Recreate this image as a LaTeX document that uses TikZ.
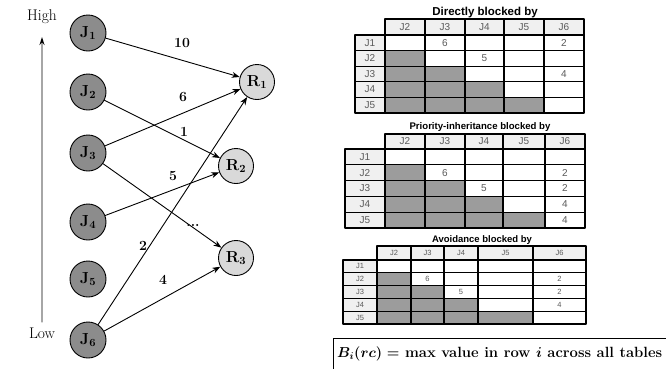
\documentclass[tikz,border=0pt]{standalone}
\usepackage{fontspec}
\usepackage{amsmath}
\newfontfamily\tabfont{Liberation Sans}
\usetikzlibrary{arrows.meta}

\definecolor{jobgray}{HTML}{8C8C8C}
\definecolor{resgray}{HTML}{D9D9D9}
\definecolor{shade}{HTML}{9C9C9C}
\definecolor{headfill}{HTML}{F0F0F0}
\definecolor{celltext}{HTML}{5A5A5A}

% one blocking table: header row, row labels, shaded lower triangle
% #1 prefix, #2/#3 label column left/right, #4 header top, #5 header height,
% #6 row height, #7 columns (index/left/right)
\newcommand{\blockgrid}[7]{%
  \foreach \c/\xa/\xb in {#7}{
    \coordinate (#1-c\c) at ({(\xa+\xb)/2},#4);
    \draw[hcell] (\xa,#4) rectangle (\xb,{#4+#5});
    \node[htext] (#1-h\c) at ({(\xa+\xb)/2},{#4+#5/2}) {J\c};
    \foreach \r in {1,...,5}{
      \ifnum\c>\r \def\cellfill{white}\else\def\cellfill{shade}\fi
      \draw[dcell,fill=\cellfill] (\xa,{#4+#5+(\r-1)*#6}) rectangle (\xb,{#4+#5+\r*#6});
    }
  }
  \foreach \r in {1,...,5}{
    \coordinate (#1-r\r) at (#2,{#4+#5+(\r-0.5)*#6});
    \draw[hcell] (#2,{#4+#5+(\r-1)*#6}) rectangle (#3,{#4+#5+\r*#6});
    \node[htext] (#1-l\r) at ({(#2+#3)/2},{#4+#5+(\r-0.5)*#6}) {J\r};
  }
}

\begin{document}
\begin{tikzpicture}[x=1pt,y=-1pt, line cap=round, line join=round]

% ---------- styles ----------
\tikzset{
  job/.style={circle, draw, line width=0.9pt, fill=jobgray, minimum size=36pt, inner sep=0pt,
    font=\bfseries\boldmath\fontsize{16}{18}\selectfont},
  res/.style={job, fill=resgray, minimum size=35pt},
  edge/.style={-{Stealth[length=8pt,width=6pt]}, line width=0.9pt},
  wlab/.style={font=\bfseries\fontsize{14}{16}\selectfont},
  side/.style={font=\fontsize{15.5}{17}\selectfont},
  hcell/.style={draw, line width=1.1pt, fill=headfill},
  dcell/.style={draw, line width=1.1pt},
  htext/.style={font=\tabfont\fontsize{10}{11}\selectfont, text=celltext, inner sep=0pt},
  vtext/.style={htext},
  ttl/.style={font=\tabfont\bfseries\fontsize{11.5}{13}\selectfont, inner sep=0pt},
}

\useasboundingbox (0,0) rectangle (666,368);

% ---------- priority axis ----------
\node[side] (high) at (42,17) {High};
\node[side] (low)  at (42,333) {Low};
\coordinate (axbot) at (42,322);
\coordinate (axtop) at (42,37);
\draw[line width=1.1pt, gray!70, -{Stealth[length=8pt,width=5pt,black]}] (axbot) -- (axtop);

% ---------- jobs and resources ----------
\node[job] (J1) at (88,33)  {J$_1$};
\node[job] (J2) at (88,92)  {J$_2$};
\node[job] (J3) at (88,153) {J$_3$};
\node[job] (J4) at (88,222) {J$_4$};
\node[job] (J5) at (88,279) {J$_5$};
\node[job] (J6) at (88,340) {J$_6$};

\node[res] (R1) at (257,82)  {R$_1$};
\node[res] (R2) at (236,166) {R$_2$};
\node[res] (R3) at (236,258) {R$_3$};

% ---------- critical sections ----------
\draw[edge] (J1) -- (R1);
\draw[edge] (J3) -- (R1);
\draw[edge] (J6) -- (R1);
\draw[edge] (J2) -- (R2);
\draw[edge] (J4) -- (R2);
\draw[edge] (J3) -- (R3);
\draw[edge] (J6) -- (R3);

\node[wlab] (w10) at (182,43)  {10};
\node[wlab] (w6)  at (183,97)  {6};
\node[wlab] (w1)  at (184,132) {1};
\node[wlab] (w5)  at (173,176) {5};
\node[wlab] (wd)  at (193,225) {...};
\node[wlab] (w2)  at (143,246) {2};
\node[wlab] (w4)  at (163,280) {4};

% ---------- directly blocked ----------
\node[ttl] (t1-title) at (485,13) {Directly blocked by};
\blockgrid{t1}{355}{385}{19}{16}{15.6}{2/385/425,3/425/465,4/465/504,5/504/544,6/544/584}
\node[vtext] (t1-v13) at (t1-c3 |- t1-r1) {6};
\node[vtext] (t1-v16) at (t1-c6 |- t1-r1) {2};
\node[vtext] (t1-v24) at (t1-c4 |- t1-r2) {5};
\node[vtext] (t1-v36) at (t1-c6 |- t1-r3) {4};

% ---------- priority inheritance ----------
\node[ttl, font=\tabfont\bfseries\fontsize{9.6}{11}\selectfont] (t2-title) at (480,127) {Priority-inheritance blocked by};
\blockgrid{t2}{345}{385}{134}{15}{15.8}{2/385/425,3/425/465,4/465/503,5/503/545,6/545/585}
\node[vtext] (t2-v23) at (t2-c3 |- t2-r2) {6};
\node[vtext] (t2-v26) at (t2-c6 |- t2-r2) {2};
\node[vtext] (t2-v34) at (t2-c4 |- t2-r3) {5};
\node[vtext] (t2-v36) at (t2-c6 |- t2-r3) {2};
\node[vtext] (t2-v46) at (t2-c6 |- t2-r4) {4};
\node[vtext] (t2-v56) at (t2-c6 |- t2-r5) {4};

% ---------- avoidance ----------
\begin{scope}[htext/.style={font=\tabfont\fontsize{7.5}{9}\selectfont, text=celltext, inner sep=0pt},
              ttl/.style={font=\tabfont\bfseries\fontsize{9.5}{11}\selectfont, inner sep=0pt}]
\node[ttl] (t3-title) at (482,240) {Avoidance blocked by};
\blockgrid{t3}{343}{377}{246}{14}{12.8}{2/377/411,3/411/444,4/444/478,5/478/533,6/533/586}
\node[htext] (t3-v23) at (t3-c3 |- t3-r2) {6};
\node[htext] (t3-v26) at (t3-c6 |- t3-r2) {2};
\node[htext] (t3-v34) at (t3-c4 |- t3-r3) {5};
\node[htext] (t3-v36) at (t3-c6 |- t3-r3) {2};
\node[htext] (t3-v46) at (t3-c6 |- t3-r4) {4};
\end{scope}

% ---------- bound ----------
\draw[line width=0.9pt] (333,372) -- (333,338) -- (670,338);
\node[anchor=west, inner sep=0pt, font=\bfseries\boldmath\fontsize{14.8}{17}\selectfont] (bound) at (337,354)
  {$B_i(rc) =$ max value in row $i$ across all tables};

\end{tikzpicture}
\end{document}
